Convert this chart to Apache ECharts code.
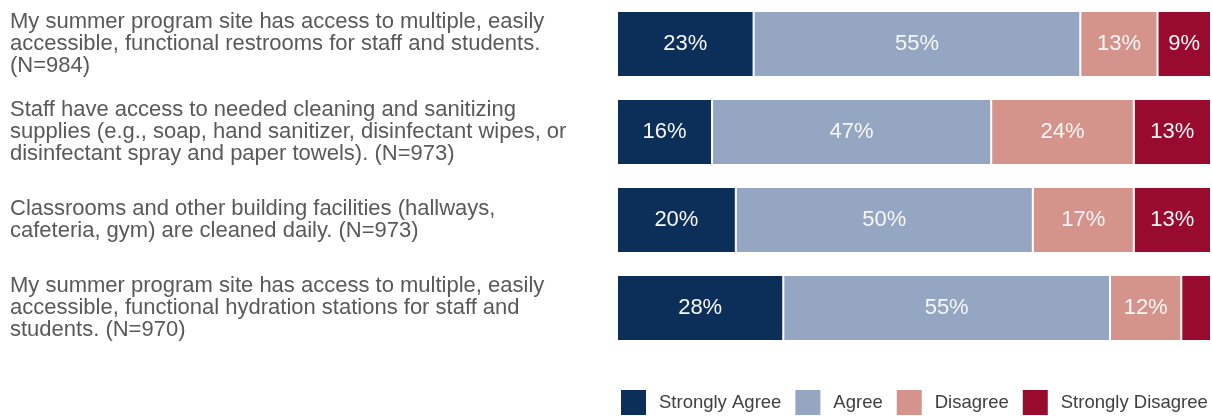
<!DOCTYPE html>
<html>
<head>
<meta charset="utf-8">
<script src="https://cdn.jsdelivr.net/npm/echarts@6/dist/echarts.min.js"></script>
<style>
  html, body { margin: 0; padding: 0; background: #fff; }
  #chart { width: 1212px; height: 416px; }
</style>
</head>
<body>
<div id="chart"></div>
<script>
// Survey statements (top to bottom)
const categories = [
  'My summer program site has access to multiple, easily\naccessible, functional restrooms for staff and students.\n(N=984)',
  'Staff have access to needed cleaning and sanitizing\nsupplies (e.g., soap, hand sanitizer, disinfectant wipes, or\ndisinfectant spray and paper towels). (N=973)',
  'Classrooms and other building facilities (hallways,\ncafeteria, gym) are cleaned daily. (N=973)',
  'My summer program site has access to multiple, easily\naccessible, functional hydration stations for staff and\nstudents. (N=970)'
];

// Response shares in percent
const stronglyAgree    = [23, 16, 20, 28];
const agree            = [55, 47, 50, 55];
const disagree         = [13, 24, 17, 12];
const stronglyDisagree = [9, 13, 13, 5];

const seriesNames  = ['Strongly Agree', 'Agree', 'Disagree', 'Strongly Disagree'];
const seriesColors = ['#0c2f5a', '#94a6c2', '#d5948b', '#990a2f'];
const seriesValues = [stronglyAgree, agree, disagree, stronglyDisagree];

const FONT = "'Liberation Sans', Arial, sans-serif";

const chart = echarts.init(document.getElementById('chart'), null, { renderer: 'canvas' });

const series = seriesNames.map((name, i) => ({
  name: name,
  type: 'bar',
  stack: 'total',
  barWidth: 66,
  itemStyle: { color: seriesColors[i], borderColor: '#ffffff', borderWidth: 1 },
  label: {
    show: true,
    position: 'inside',
    color: '#f7f7f7',
    fontFamily: FONT,
    fontSize: 22,
    formatter: '{c}%'
  },
  // very thin segments carry no label
  data: seriesValues[i].map(v => v < 6 ? { value: v, label: { show: false } } : v)
}));

chart.setOption({
  animation: false,
  backgroundColor: '#ffffff',
  textStyle: { fontFamily: FONT },
  grid: { left: 617, right: 1, top: 0, height: 352, containLabel: false },
  xAxis: {
    type: 'value',
    min: 0,
    max: 100,
    show: false
  },
  yAxis: {
    type: 'category',
    data: categories,
    inverse: true,
    axisLine: { show: false },
    axisTick: { show: false },
    splitLine: { show: false },
    axisLabel: {
      align: 'left',
      margin: 607,
      color: '#595959',
      fontSize: 22,
      lineHeight: 22,
      fontFamily: FONT
    }
  },
  legend: {
    left: 619,
    top: 388,
    width: 620,
    padding: 0,
    itemWidth: 27,
    itemHeight: 27,
    itemGap: 12,
    icon: 'rect',
    selectedMode: false,
    data: seriesNames,
    textStyle: {
      color: '#404040',
      fontSize: 18.5,
      fontFamily: FONT,
      padding: [0, 0, 0, 7]
    }
  },
  series: series
});
</script>
</body>
</html>
